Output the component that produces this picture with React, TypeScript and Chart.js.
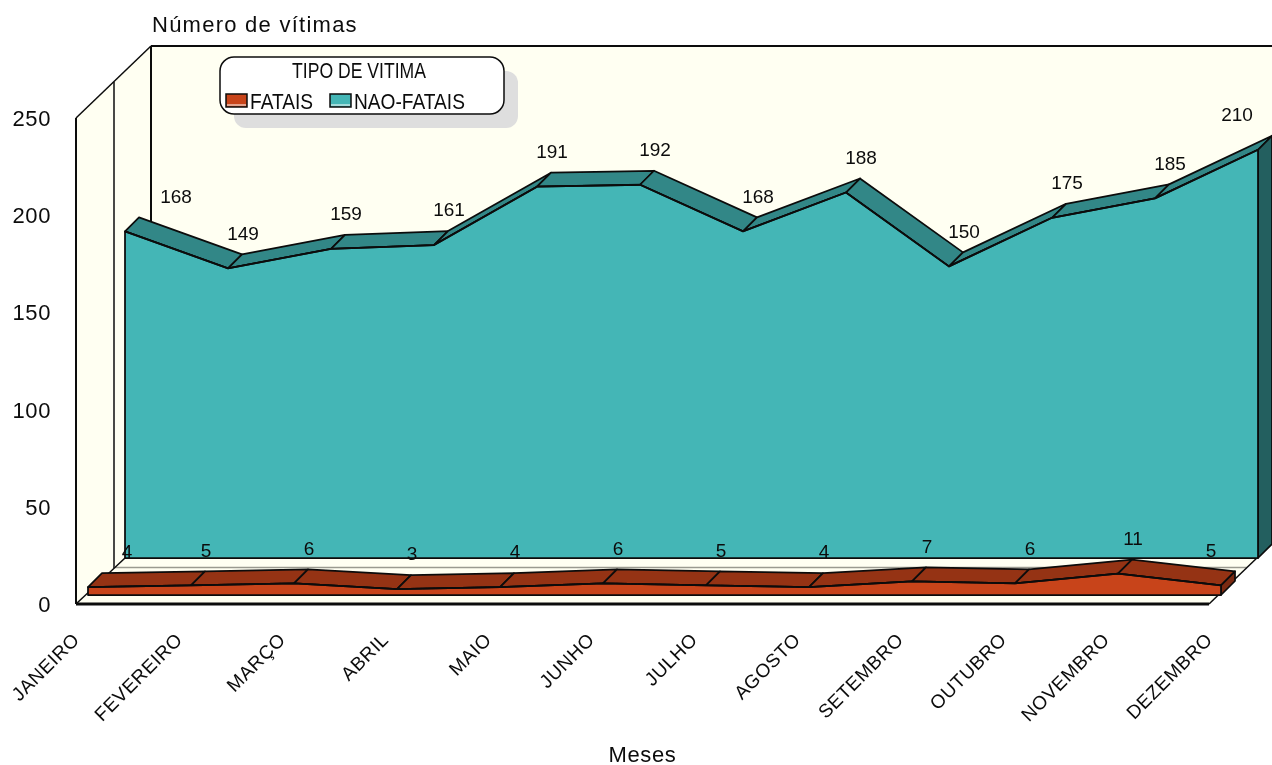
import React, { useEffect, useRef } from "react";
import { Chart, registerables } from "chart.js";

Chart.register(...registerables);

const months = ["JANEIRO", "FEVEREIRO", "MARÇO", "ABRIL", "MAIO", "JUNHO", "JULHO", "AGOSTO", "SETEMBRO", "OUTUBRO", "NOVEMBRO", "DEZEMBRO"];
const fatais = [4, 5, 6, 3, 4, 6, 5, 4, 7, 6, 11, 5];
const naoFatais = [168, 149, 159, 161, 191, 192, 168, 188, 150, 175, 185, 210];
const yTitle = "Número de vítimas";
const xTitle = "Meses";
const legendTitle = "TIPO DE VITIMA";
const seriesNames = ["FATAIS", "NAO-FATAIS"];

const FONT = '"Liberation Sans", Arial, sans-serif';
const WALL = "#FFFFF2";
const INK = "#0c0c0c";
const DEPTH = { back: [75, -72], mid: [38, -36] };
const styles = [
  { dx: 12, dy: -9, front: "#C8441A", top: "#953314", side: "#7A2A12", first: 39, last: -10 },
  { dx: 49, dy: -46, front: "#44B6B6", top: "#328787", side: "#235F5F", first: 51, last: -21 },
];
const RIBBON = 14;

function poly(ctx: CanvasRenderingContext2D, pts: number[][], fill?: string, stroke?: string, lw = 1.75) {
  ctx.beginPath();
  pts.forEach((p, i) => (i ? ctx.lineTo(p[0], p[1]) : ctx.moveTo(p[0], p[1])));
  ctx.closePath();
  if (fill) {
    ctx.fillStyle = fill;
    ctx.fill();
  }
  if (stroke) {
    ctx.strokeStyle = stroke;
    ctx.lineWidth = lw;
    ctx.lineJoin = "round";
    ctx.stroke();
  }
}

function line(ctx: CanvasRenderingContext2D, x1: number, y1: number, x2: number, y2: number, lw = 1.5, c = INK) {
  ctx.beginPath();
  ctx.moveTo(x1, y1);
  ctx.lineTo(x2, y2);
  ctx.strokeStyle = c;
  ctx.lineWidth = lw;
  ctx.stroke();
}

function squeezed(ctx: CanvasRenderingContext2D, text: string, x: number, y: number, align: CanvasTextAlign, sx: number) {
  ctx.save();
  ctx.translate(x, y);
  ctx.scale(sx, 1);
  ctx.font = `22px ${FONT}`;
  ctx.fillStyle = INK;
  ctx.textAlign = align;
  ctx.textBaseline = "middle";
  ctx.fillText(text, 0, 0);
  ctx.restore();
}

const scene = {
  id: "scene",
  beforeDraw(chart: any) {
    chart.ctx.letterSpacing = "0.6px";
  },
  beforeDatasetsDraw(chart: any) {
    const { ctx, chartArea: a } = chart;
    ctx.letterSpacing = "0px";
    const [bx, by] = DEPTH.back;
    const [mx, my] = DEPTH.mid;
    const bl = [a.left, a.bottom];
    const br = [a.right, a.bottom];
    const tl = [a.left, a.top];
    poly(ctx, [bl, tl, [tl[0] + bx, tl[1] + by], [bl[0] + bx, bl[1] + by]], WALL);
    poly(ctx, [[bl[0] + bx, bl[1] + by], [tl[0] + bx, tl[1] + by], [br[0] + bx, tl[1] + by], [br[0] + bx, br[1] + by]], WALL);
    poly(ctx, [bl, br, [br[0] + bx, br[1] + by], [bl[0] + bx, bl[1] + by]], WALL);
    line(ctx, tl[0], tl[1], tl[0] + bx, tl[1] + by, 1.5);
    line(ctx, tl[0], tl[1], bl[0], bl[1], 2);
    line(ctx, tl[0] + bx, tl[1] + by, br[0] + bx, tl[1] + by, 2);
    line(ctx, tl[0] + bx, tl[1] + by, bl[0] + bx, bl[1] + by, 2);
    line(ctx, tl[0] + mx, tl[1] + my, bl[0] + mx, bl[1] + my, 1.5);
    line(ctx, bl[0] + mx, bl[1] + my - 0.5, br[0] + mx, br[1] + my - 0.5, 1.5, "#9a9a90");
    line(ctx, bl[0], bl[1], bl[0] + styles[1].dx, bl[1] + styles[1].dy, 1.5);
    line(ctx, br[0], br[1], br[0] + bx, br[1] + by, 1.5);
    line(ctx, bl[0], bl[1], br[0], br[1], 3);

    const lx = 220, ly = 57, lw = 284, lh = 57;
    ctx.beginPath();
    ctx.roundRect(lx + 14, ly + 14, lw, lh, 12);
    ctx.fillStyle = "#DEDEDE";
    ctx.fill();
    ctx.beginPath();
    ctx.roundRect(lx, ly, lw, lh, 14);
    ctx.fillStyle = "#ffffff";
    ctx.fill();
    ctx.strokeStyle = INK;
    ctx.lineWidth = 1.5;
    ctx.stroke();
    squeezed(ctx, legendTitle, lx + 139, ly + 15, "center", 0.8);
    [6, 110].forEach((off, i) => {
      ctx.fillStyle = styles[i].front;
      ctx.fillRect(lx + off, ly + 37, 21, 13);
      ctx.strokeStyle = INK;
      ctx.lineWidth = 1.5;
      ctx.strokeRect(lx + off, ly + 37, 21, 13);
      line(ctx, lx + off + 1, ly + 48, lx + off + 20, ly + 48, 1, "#ffffff");
      squeezed(ctx, seriesNames[i], lx + off + 24, ly + 46, "left", 0.87);
    });
  },
  beforeDatasetDraw(chart: any, args: any) {
    const { ctx } = chart;
    const s = styles[args.index];
    const zero = chart.scales.y.getPixelForValue(0);
    const pts = args.meta.data.map((p: any) => [p.x, p.y]);
    ctx.save();
    ctx.translate(s.dx, s.dy);
    for (let i = 0; i < pts.length - 1; i++) {
      const [ax, ay] = pts[i];
      const [cx, cy] = pts[i + 1];
      poly(ctx, [[ax, ay], [ax + RIBBON, ay - RIBBON], [cx + RIBBON, cy - RIBBON], [cx, cy]], s.top, INK);
    }
    const [ex, ey] = pts[pts.length - 1];
    poly(ctx, [[ex, ey], [ex + RIBBON, ey - RIBBON], [ex + RIBBON, zero - RIBBON], [ex, zero]], s.side, INK);
    const area = [[pts[0][0], zero], ...pts, [ex, zero]];
    poly(ctx, area, s.front, INK);
  },
  afterDatasetDraw(chart: any) {
    chart.ctx.restore();
  },
  afterDatasetsDraw(chart: any) {
    const { ctx } = chart;
    ctx.save();
    ctx.font = `19px ${FONT}`;
    ctx.fillStyle = INK;
    ctx.textAlign = "center";
    ctx.textBaseline = "middle";
    chart.data.datasets.forEach((d: any, k: number) => {
      const s = styles[k];
      chart.getDatasetMeta(k).data.forEach((p: any, i: number) => {
        let ox = 15;
        if (i === 0) ox = s.first;
        if (i === d.data.length - 1) ox = s.last;
        ctx.fillText(String(d.data[i]), p.x + s.dx + ox, p.y + s.dy - 34);
      });
    });
    ctx.font = `22px ${FONT}`;
    ctx.letterSpacing = "1.25px";
    ctx.textAlign = "left";
    ctx.fillText(yTitle, 152, 26);
    ctx.restore();
  },
};

export default function App() {
  const ref = useRef<HTMLCanvasElement>(null);
  useEffect(() => {
    const chart = new Chart(ref.current as HTMLCanvasElement, {
      type: "line",
      data: {
        labels: months,
        datasets: [
          { label: seriesNames[0], data: fatais, borderColor: INK, borderWidth: 1.75, pointRadius: 0, tension: 0, fill: false, clip: false },
          { label: seriesNames[1], data: naoFatais, borderColor: INK, borderWidth: 1.75, pointRadius: 0, tension: 0, fill: false, clip: false },
        ],
      },
      plugins: [scene],
      options: {
        responsive: false,
        animation: false,
        layout: { autoPadding: false, padding: { top: 118, right: 63, left: 0, bottom: 0 } },
        plugins: { legend: { display: false }, tooltip: { enabled: false } },
        scales: {
          x: {
            grid: { display: false, drawTicks: false },
            border: { display: false },
            ticks: { autoSkip: false, minRotation: 45, maxRotation: 45, padding: 25, labelOffset: 1, color: INK, font: { family: FONT, size: 19 } },
            title: { display: true, text: xTitle, color: INK, padding: { top: 4, bottom: -2 }, font: { family: FONT, size: 22, lineHeight: 1 } },
            afterFit: (s: any) => {
              s.height = 161;
              s.paddingLeft = 0;
              s.paddingRight = 0;
            },
          },
          y: {
            min: 0,
            max: 250,
            grid: { display: false, drawTicks: false },
            border: { display: false },
            ticks: { stepSize: 50, padding: 25, labelOffset: 2, color: INK, font: { family: FONT, size: 22 } },
            afterFit: (s: any) => {
              s.width = 76;
            },
          },
        },
      },
    } as any);
    return () => chart.destroy();
  }, []);
  return (
    <div style={{ position: "absolute", left: 0, top: 0, width: 1272, height: 765 }}>
      <canvas ref={ref} width={1272} height={765} style={{ display: "block" }} />
    </div>
  );
}
